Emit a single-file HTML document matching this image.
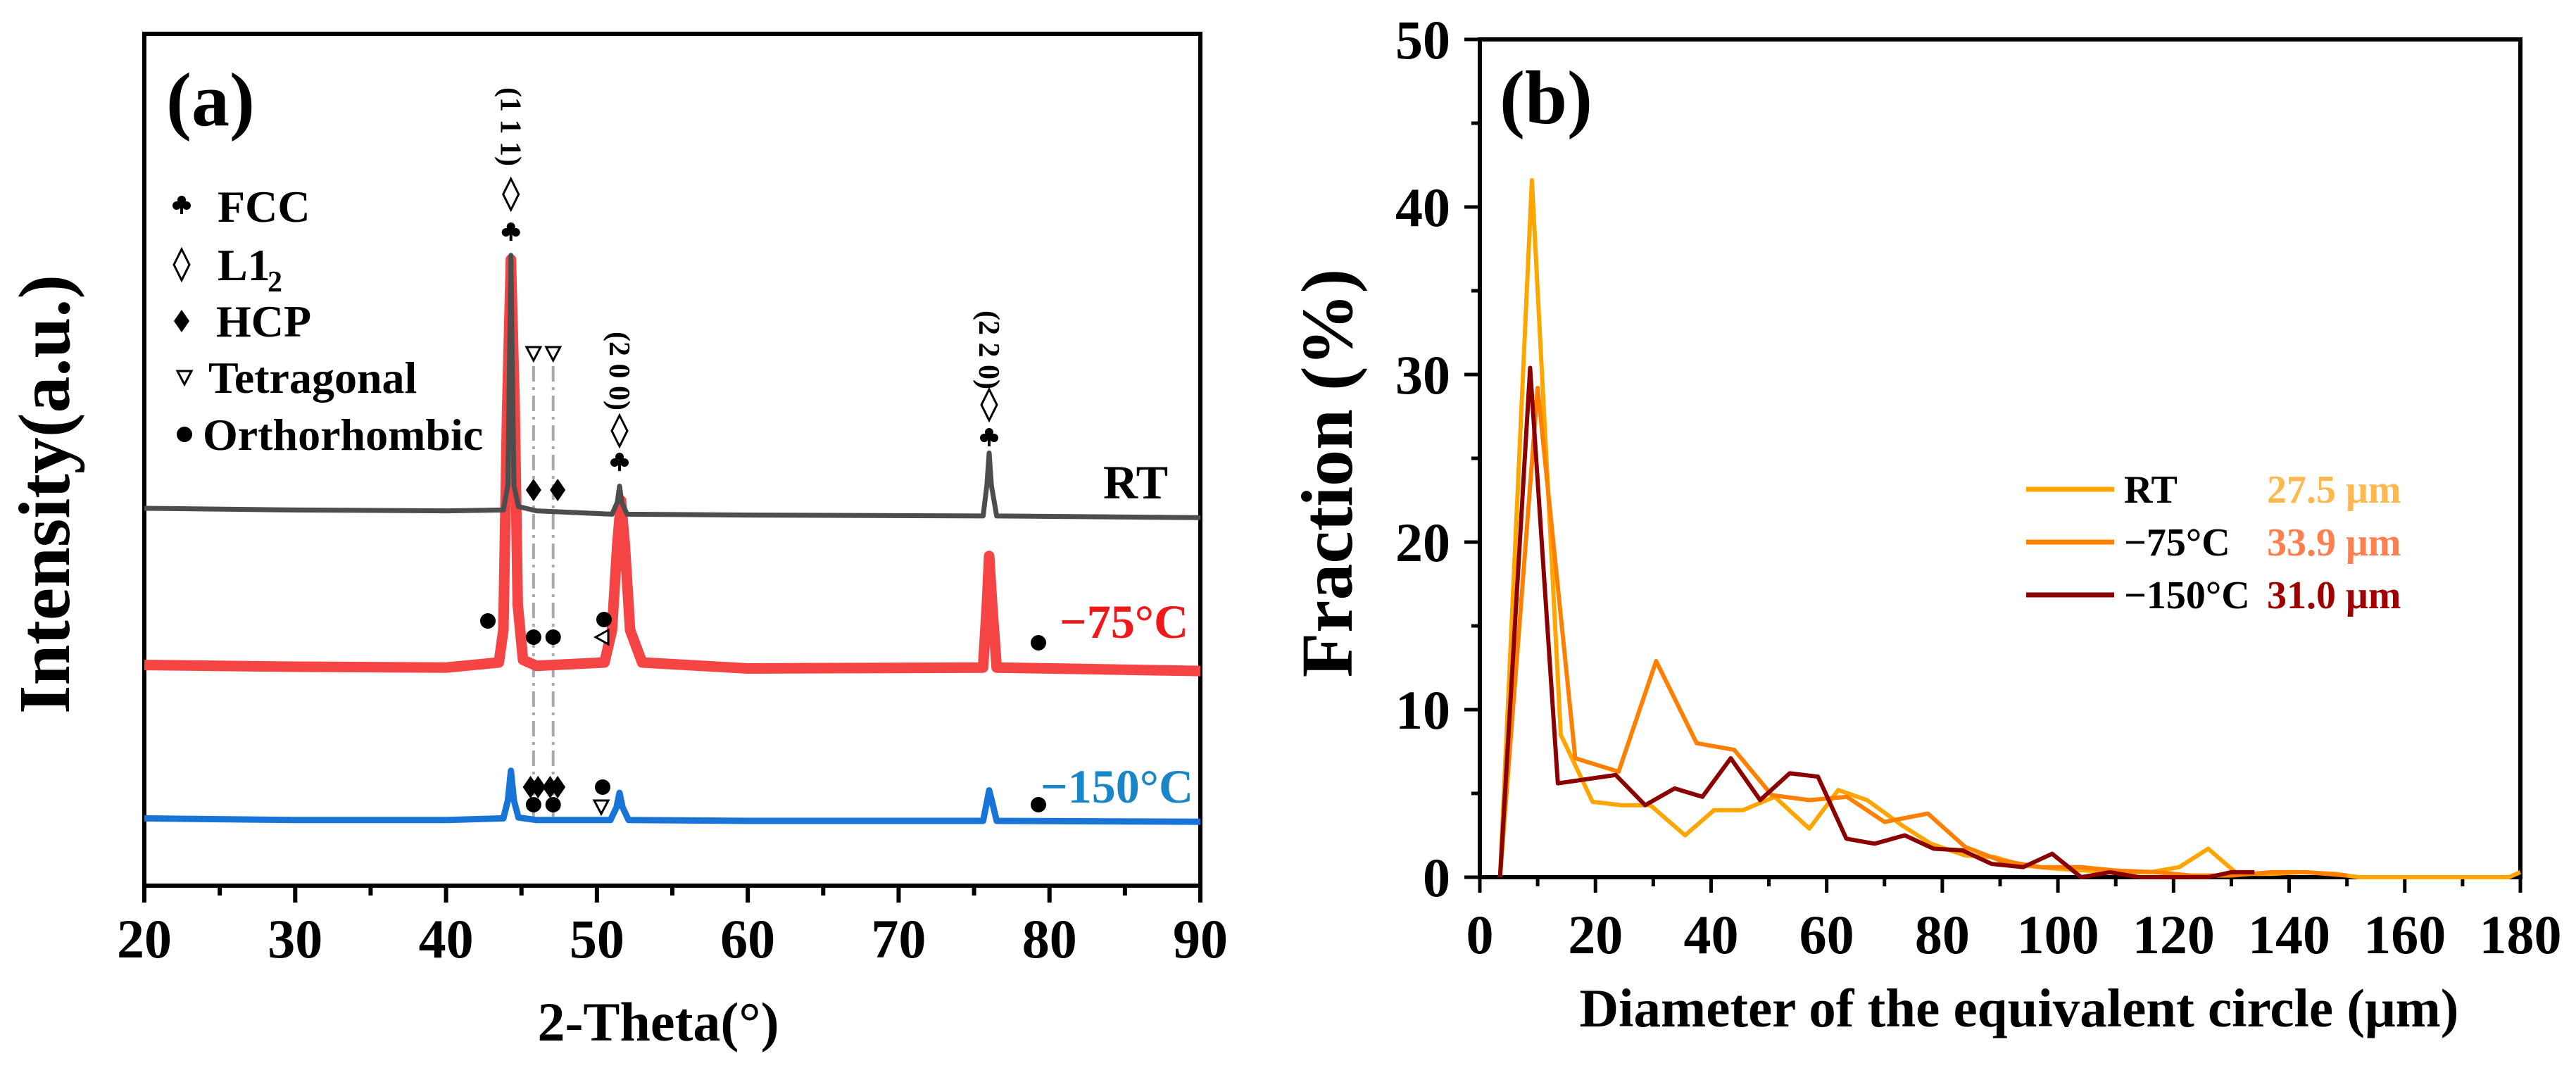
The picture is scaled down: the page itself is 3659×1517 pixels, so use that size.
<!DOCTYPE html>
<html><head><meta charset="utf-8"><style>
html,body{margin:0;padding:0;background:#fff;}
svg{display:block;}
text{font-family:"Liberation Serif",serif;font-weight:bold;}
</style></head><body>
<svg id="fig" width="3659" height="1517" viewBox="0 0 3659 1517" xmlns="http://www.w3.org/2000/svg">
<rect x="0" y="0" width="3659" height="1517" fill="#fff"/>
<g id="pa"></g>
<g id="pb"></g>
</svg>
<script>
// ---------- Panel (a) data: XRD key points (2-theta, intensity a.u.) ----------
const rtTheta   = [20,30,40,43.8,44.1,44.3,44.5,44.8,46,51.0,51.35,51.5,51.65,52.0,60,75.6,75.85,76.0,76.15,76.5,90];
const rtInt     = [443,441,440,441,470,740,470,445,440,436,450,469,450,436,435,434,470,508,470,434,432];
const m75Theta  = [20,30,40,43.5,43.8,44.05,44.3,44.55,44.75,45.1,46,50.5,51.0,51.35,51.6,51.85,52.2,53,60,75.6,75.85,76.0,76.2,76.5,90];
const m75Int    = [259,257,256,262,300,560,735,560,330,265,258,262,300,400,452,400,300,262,255,256,330,387,330,256,252];
const m150Theta = [20,30,40,43.8,44.1,44.3,44.5,44.8,46,50.9,51.3,51.5,51.7,52.1,60,75.6,75.85,76.0,76.2,76.5,90];
const m150Int   = [79,77,77,79,100,135,100,80,77,77,92,109,92,77,76,76,98,112,98,76,75];
const xTicksA   = [20,30,40,50,60,70,80,90];

// ---------- Panel (b) data: grain size distributions ----------
const rtD   = [3.5,9,14,19.5,24.5,29.5,35.5,40.5,45.5,51,57,62,67,73,78,84,89,94,100,105,110,116,121,126,131,137,142,148,152,158,168,178,180];
const rtF   = [0,41.6,8.5,4.5,4.3,4.3,2.5,4.0,4.0,4.8,2.9,5.2,4.6,3.1,2.0,1.3,1.2,0.7,0.5,0.4,0.3,0.3,0.6,1.7,0.2,0.2,0.3,0.2,0,0,0,0,0.3];
const m75D  = [3.5,10,16.5,24,30.5,37.5,44,50.5,57,63.5,70,77.5,84,90,97,104,110,117,123,130,137,143,150];
const m75F  = [0,29.2,7.1,6.3,12.9,8.0,7.6,4.9,4.6,4.8,3.3,3.8,1.8,1.0,0.6,0.6,0.4,0.3,0.1,0.1,0.3,0.3,0.1];
const m150D = [3.5,8.7,13.5,23.5,28.6,33.7,38.5,43.4,48.5,53.6,58.5,63.4,68.3,73.5,78.5,83.5,88.5,94,99,104,109,114,120,126,130,134];
const m150F = [0,30.4,5.6,6.1,4.3,5.3,4.8,7.1,4.6,6.2,6.0,2.3,2.0,2.5,1.7,1.6,0.8,0.6,1.4,0,0.3,0,0,0,0.3,0.3];
const xTicksB = [0,20,40,60,80,100,120,140,160,180];
const yTicksB = [0,10,20,30,40,50];
const legendNames = ["RT","\u221275\u00B0C","\u2212150\u00B0C"];
const legendValues = ["27.5 \u03BCm","33.9 \u03BCm","31.0 \u03BCm"];

const NS="http://www.w3.org/2000/svg";
function mk(tag, attrs, parent){const e=document.createElementNS(NS,tag);for(const k in attrs)e.setAttribute(k,attrs[k]);parent.appendChild(e);return e;}
function txt(s, attrs, parent){const e=mk('text',attrs,parent);e.textContent=s;return e;}

const AX0=205, AX1=1705, AY0=1258, AY1=48;
function xa(t){return AX0+(t-20)/70*(AX1-AX0);}
function ya(v){return AY0-v/1000*(AY0-AY1);}
const BX0=2102, BX1=3580, BY0=1246, BY1=56;
function xb(d){return BX0+d/180*(BX1-BX0);}
function yb(f){return BY0-f/50*(BY0-BY1);}

const pa=document.getElementById('pa');
const pb=document.getElementById('pb');

// ===== Panel A =====
let fr=mk('rect',{x:AX0,y:AY1,width:AX1-AX0,height:AY0-AY1,fill:'none',stroke:'#000','stroke-width':6},pa);


for(let t=20;t<=90;t+=5){
  const major=(t%10===0);
  const tk=mk('line',{x1:xa(t),y1:AY0,x2:xa(t),y2:AY0+(major?24:14),stroke:'#000','stroke-width':6},pa);
  
  
}
xTicksA.forEach(t=>{
  const l=txt(String(t),{x:xa(t),y:1360,'font-size':78,'text-anchor':'middle'},pa);
  
  
});
let xt=txt('2-Theta(\u00B0)',{x:935,y:1478,'font-size':78,'text-anchor':'middle'},pa);


let yt=txt('Intensity(a.u.)',{x:0,y:0,'font-size':104,'text-anchor':'middle',transform:'translate(98,702) rotate(-90)'},pa);


let la=txt('(a)',{x:236,y:178,'font-size':108},pa);



[45.8,47.1].forEach(t=>{
  const g=mk('line',{x1:xa(t),y1:520,x2:xa(t),y2:1160,stroke:'#aaa','stroke-width':4,'stroke-dasharray':'22 8 4 8'},pa);
  
  
});

function curve(th, iv, color, w, name){
  let d='';
  th.forEach((t,i)=>{d+=(i?'L':'M')+xa(t).toFixed(1)+','+ya(iv[i]).toFixed(1);});
  const p=mk('path',{d:d,fill:'none',stroke:color,'stroke-width':w,'stroke-linejoin':'round'},pa);
  
  
}
curve(m150Theta,m150Int,'#1874d6',9,'curve-minus150');
curve(m75Theta,m75Int,'#f54444',15,'curve-minus75');
curve(rtTheta,rtInt,'#4d4d4d',7,'curve-rt');

let c1=txt('RT',{x:1567,y:708,'font-size':68},pa);


let c2=txt('\u221275\u00B0C',{x:1505,y:906,'font-size':68,fill:'#f01818'},pa);


let c3=txt('\u2212150\u00B0C',{x:1478,y:1140,'font-size':68,fill:'#1a86c8'},pa);



function club(x,y,parent){const g=mk('g',{},parent);mk('circle',{cx:x,cy:y-6,r:6,fill:'#000'},g);mk('circle',{cx:x-7,cy:y+2,r:6,fill:'#000'},g);mk('circle',{cx:x+7,cy:y+2,r:6,fill:'#000'},g);mk('rect',{x:x-2,y:y,width:4,height:14,fill:'#000'},g);return g;}
function odia(x,y,parent){return mk('path',{d:`M${x},${y-22}L${x+11},${y}L${x},${y+22}L${x-11},${y}Z`,fill:'#fff',stroke:'#000','stroke-width':3},parent);}
function fdia(x,y,parent){return mk('path',{d:`M${x},${y-16}L${x+11},${y}L${x},${y+16}L${x-11},${y}Z`,fill:'#000'},parent);}
function tri(x,y,parent){return mk('path',{d:`M${x-10},${y-9}L${x+10},${y-9}L${x},${y+10}Z`,fill:'#fff',stroke:'#000','stroke-width':3},parent);}
function dot(x,y,parent){return mk('circle',{cx:x,cy:y,r:11,fill:'#000'},parent);}

const ann=mk('g',{},pa);


[[44.3,180,'(1 1 1)'],[51.5,527,'(2 0 0)'],[76,497,'(2 2 0)']].forEach(a=>{
  const t=txt(a[2],{x:0,y:0,'font-size':42,'font-weight':'normal','text-anchor':'middle',transform:`translate(${xa(a[0])-14},${a[1]}) rotate(90)`},ann);
  
  
});
odia(xa(44.3),276,ann); club(xa(44.3),328,ann);
odia(xa(51.5),612,ann); club(xa(51.5),655,ann);
odia(xa(76),575,ann); club(xa(76),620,ann);
tri(xa(45.8),502,ann); tri(xa(47.1),502,ann);
fdia(xa(45.8),696,ann); fdia(xa(47.4),696,ann);
dot(693,882,ann); dot(xa(45.8),905,ann); dot(xa(47.1),905,ann); dot(858,880,ann);
mk('path',{d:'M846,905L864,895L864,915Z',fill:'#fff',stroke:'#000','stroke-width':3},ann);
dot(1475,913,ann);
fdia(xa(45.6),1118,ann); fdia(xa(46.1),1118,ann); fdia(xa(46.9),1118,ann); fdia(xa(47.4),1118,ann);
dot(xa(45.8),1143,ann); dot(xa(47.1),1143,ann); dot(856,1118,ann); tri(854,1146,ann); dot(1475,1143,ann);

const lg=mk('g',{},pa);


club(258,290,lg); txt('FCC',{x:309,y:315,'font-size':64},lg);
odia(258,376,lg); txt('L1',{x:309,y:398,'font-size':64},lg); txt('2',{x:380,y:414,'font-size':42},lg);
fdia(258,456,lg); txt('HCP',{x:307,y:478,'font-size':64},lg);
tri(262,536,lg); txt('Tetragonal',{x:296,y:558,'font-size':64},lg);
dot(262,617,lg); txt('Orthorhombic',{x:288,y:639,'font-size':64},lg);

// ===== Panel B =====
let frb=mk('rect',{x:BX0,y:BY1,width:BX1-BX0,height:BY0-BY1,fill:'none',stroke:'#000','stroke-width':6},pb);


for(let d=0;d<=180;d+=10){
  const major=(d%20===0);
  const tk=mk('line',{x1:xb(d),y1:BY0,x2:xb(d),y2:BY0+(major?22:13),stroke:'#000','stroke-width':5},pb);
  
  
}
for(let f=0;f<=50;f+=5){
  const major=(f%10===0);
  const tk=mk('line',{x1:BX0,y1:yb(f),x2:BX0-(major?22:12),y2:yb(f),stroke:'#000','stroke-width':5},pb);
  
  
}
xTicksB.forEach(d=>{
  const l=txt(String(d),{x:xb(d),y:1354,'font-size':78,'text-anchor':'middle'},pb);
  
  
});
yTicksB.forEach(f=>{
  const l=txt(String(f),{x:2060,y:yb(f)+27,'font-size':78,'text-anchor':'end'},pb);
  
  
});
let xtb=txt('Diameter of the equivalent circle (\u03BCm)',{x:2868,y:1458,'font-size':77,'text-anchor':'middle'},pb);


let ytb=txt('Fraction (%)',{x:0,y:0,'font-size':104,'text-anchor':'middle',transform:'translate(1920,672) rotate(-90)'},pb);


let lb=txt('(b)',{x:2130,y:175,'font-size':108},pb);



function line(ds, fs, color, name){
  let d='';
  ds.forEach((v,i)=>{d+=(i?'L':'M')+xb(v).toFixed(1)+','+yb(fs[i]).toFixed(1);});
  const p=mk('path',{d:d,fill:'none',stroke:color,'stroke-width':6,'stroke-linejoin':'round'},pb);
  
  
}
line(rtD,rtF,'#ffa500','series-rt');
line(m75D,m75F,'#ff8000','series-minus75');
line(m150D,m150F,'#8b0000','series-minus150');

const lineColors=['#ffa500','#ff8000','#8b0000'];
const valColors=['#ffb84d','#ff7f50','#a00000'];
legendNames.forEach((n,i)=>{
  const y=695+i*75;
  const g=mk('g',{},pb);
  
  
  mk('line',{x1:2878,y1:y,x2:3003,y2:y,stroke:lineColors[i],'stroke-width':7},g);
  txt(n,{x:3017,y:y+19,'font-size':56},g);
  txt(legendValues[i],{x:3220,y:y+19,'font-size':56,fill:valColors[i]},g);
});
</script>
</body></html>
